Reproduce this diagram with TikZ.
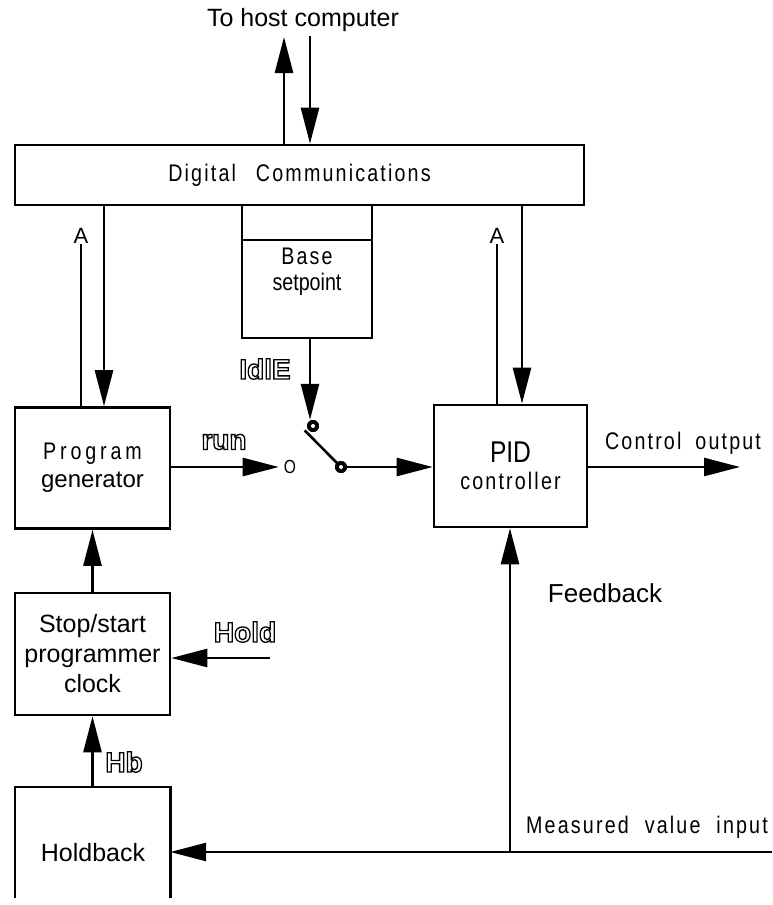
\documentclass[tikz,border=0pt]{standalone}
\usepackage{fontspec}
\setmainfont{Liberation Sans}
\newfontfamily\narrowfont[FakeStretch=0.82]{Liberation Sans}
\newfontfamily\spacedfont[FakeStretch=0.82,LetterSpace=9]{Liberation Sans}
\usetikzlibrary{arrows.meta}

% outlined letters (text render mode 1)
\newcommand{\hollow}[1]{\special{pdf:code q 1 Tr 1.3 w}#1\special{pdf:code Q}}

\tikzset{
  ln/.style={line width=2.6pt},
  blk/.style={ln, draw, minimum width=155pt, minimum height=121pt, inner sep=0pt, align=center},
  arr/.style={ln, -{Triangle[length=36pt,width=18pt]}},
  txt/.style={inner sep=0pt, align=center, font=\fontsize{25}{30}\selectfont},
  sptxt/.style={inner sep=0pt, align=center, font=\spacedfont\fontsize{24}{28}\selectfont},
  hol/.style={inner sep=0pt, font=\bfseries\fontsize{28}{30}\selectfont},
  ring/.style={circle, fill, inner sep=0pt, minimum size=12pt,
    path picture={\fill[white] (path picture bounding box.center) circle (2pt);}}
}

\begin{document}
\begin{tikzpicture}[x=1pt, y=-1pt]
\useasboundingbox (0,0) rectangle (772,905);

% blocks
\node[blk, sptxt, minimum width=569pt, minimum height=60pt] (dc) at (299.5,175) {Digital\hspace{20pt}Communications};
\node[blk, minimum width=130pt, minimum height=133pt, font=\fontsize{24}{26}\selectfont] (base) at (307,271.5)
  {{\spacedfont Base}\\{\narrowfont setpoint}};
\draw[ln] (base.west |- 0,240) -- (base.east |- 0,240);
\node[blk, font=\fontsize{24}{28}\selectfont] (prog) at (92.5,468)
  {{\spacedfont\addfontfeature{LetterSpace=16}Program}\\generator};
\node[blk, minimum width=153pt, minimum height=122pt, font=\fontsize{24}{27}\selectfont] (pid) at (510.5,466)
  {{\narrowfont\fontsize{30}{27}\selectfont PID}\\{\spacedfont controller}};
\node[blk, txt, minimum height=122pt] (stop) at (92.5,654) {Stop/start\\programmer\\clock};
\node[minimum width=155pt, minimum height=111pt, inner sep=0pt] (hbk) at (92.5,842.5) {};
\draw[ln] (hbk.south west) -- (hbk.north west) -- (hbk.north east) -- (hbk.south east);
\node[txt] (hbl) at (93,853) {Holdback};

% host link
\node[txt] (host) at (303,20) {To host computer};
\coordinate (hostup) at (284,37);
\coordinate (hostdn) at (310,36);
\draw[arr] (hostup |- dc.north) -- (hostup);
\draw[arr] (hostdn) -- (hostdn |- dc.north);

% dc to program / pid
\node[inner sep=0pt, font=\fontsize{22}{24}\selectfont] (aL) at (81,236) {A};
\draw[ln] (aL.south |- prog.north) -- (aL.south);
\draw[arr] (104,0 |- dc.south) -- (104,0 |- prog.north);
\node[inner sep=0pt, font=\fontsize{22}{24}\selectfont] (aR) at (497,236) {A};
\draw[ln] (aR.south |- pid.north) -- (aR.south);
\draw[arr] (522,0 |- dc.south) -- (522,0 |- pid.north);

% switch
\node[ring] (sw1) at (313,426) {};
\node[ring] (sw2) at (341,467) {};
\draw[arr] (310,0 |- base.south) -- (310,0 |- sw1.north);
\draw[ln] ([xshift=-4pt]sw1.south west) -- (sw2.center);
\node[ring] at (sw1) {};
\node[ring] at (sw2) {};
\draw[arr] (sw2.east) -- (sw2 -| pid.west);
\node[hol] (idle) at (265,369) {\hollow{IdlE}};

\node[inner sep=0pt, font=\narrowfont\fontsize{19}{20}\selectfont] (open) at (290,467) {O};
\draw[arr] (prog.east |- open.west) -- ([xshift=-5pt]open.west);
\node[hol] (run) at (224,442) {\hollow{run}};

% output
\coordinate (ctl) at (740,467);
\draw[arr] (pid.east |- ctl) -- (ctl);
\node[sptxt] (ctlt) at (683,443) {Control\hspace{14pt}output};

% clock chain
\draw[arr] (stop.north) -- (prog.south);
\coordinate (holdin) at (270,658);
\draw[arr] (holdin) -- (holdin -| stop.east);
\node[hol] (hold) at (245,632) {\hollow{Hold}};
\draw[arr] (hbk.north) -- (stop.south);
\node[hol] (hb) at (124,762) {\hollow{Hb}};

% measured value
\coordinate (mvin) at (772,852);
\coordinate (fb) at (510,852);
\draw[arr] (mvin) -- (mvin -| hbk.east);
\draw[arr] (fb) -- (fb |- pid.south);
\node[sptxt] (mvt) at (647,827) {Measured\hspace{16pt}value\hspace{16pt}input};
\node[txt, font=\fontsize{26}{28}\selectfont] (fbt) at (605,593) {Feedback};
\end{tikzpicture}
\end{document}
